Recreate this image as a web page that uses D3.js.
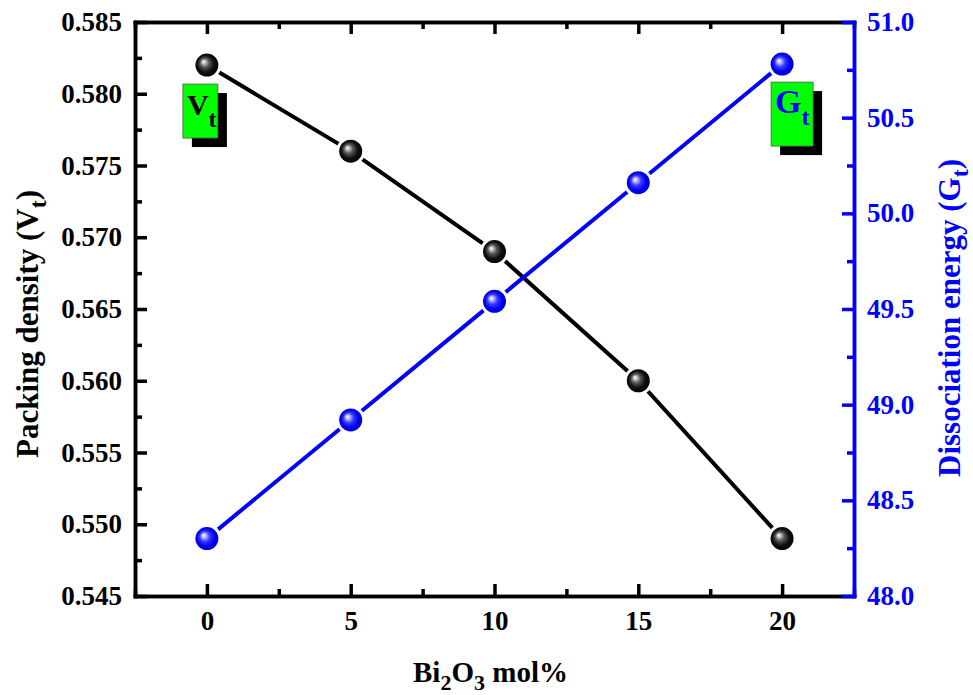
<!DOCTYPE html>
<html><head><meta charset="utf-8">
<script src="https://cdn.jsdelivr.net/npm/d3@7"></script>
<style>
html,body{margin:0;padding:0;background:#fff;}
svg{display:block;}
svg text{font-family:"Liberation Serif","Times New Roman",Times,"Nimbus Roman","DejaVu Serif",serif !important;font-weight:bold;}
</style></head>
<body>
<svg id="chart" width="973" height="695"></svg>
<script>
const bi2o3 = [0, 5, 10, 15, 20];
const packingDensity = [0.582, 0.576, 0.569, 0.560, 0.549];
const dissociationEnergy = [48.30, 48.92, 49.54, 50.16, 50.78];
const xTicks = [0, 5, 10, 15, 20];
const leftTicks = [0.545, 0.550, 0.555, 0.560, 0.565, 0.570, 0.575, 0.580, 0.585];
const rightTicks = [48.0, 48.5, 49.0, 49.5, 50.0, 50.5, 51.0];

const svg = d3.select("#chart");
const m = {left:135, right:854, top:22, bottom:596};
const x = d3.scaleLinear().domain([-2.5, 22.5]).range([m.left, m.right]);
const yL = d3.scaleLinear().domain([0.545, 0.585]).range([m.bottom, m.top]);
const yR = d3.scaleLinear().domain([48.0, 51.0]).range([m.bottom, m.top]);

const defs = svg.append("defs");
function grad(id, stops){
  const g = defs.append("radialGradient").attr("id", id)
    .attr("cx","50%").attr("cy","50%").attr("r","55%")
    .attr("fx","35%").attr("fy","35%");
  stops.forEach(s => g.append("stop").attr("offset", s[0]).attr("stop-color", s[1]));
}
grad("gBlack", [["0%","#ffffff"],["12%","#cfcfcf"],["35%","#5a5a5a"],["65%","#111"],["100%","#000"]]);
grad("gBlue", [["0%","#ffffff"],["14%","#c8c8ff"],["40%","#3a3aff"],["70%","#0000f0"],["100%","#0000c8"]]);

const fs = 27;
function styleAxis(g, color){
  g.attr("font-family", null);
  g.selectAll("path,line").attr("stroke", color).attr("stroke-width", 3.5);
  g.selectAll("text").attr("fill", color).attr("font-size", fs);
  g.select(".domain").attr("stroke-linecap","square");
}
const minorX = d3.range(-2.5, 22.6, 2.5).filter(v => v % 5 !== 0);
const minorL = d3.range(0, 8).map(i => 0.5475 + i*0.005);
const minorR = d3.range(0, 6).map(i => 48.25 + i*0.5);

// bottom axis
const gb = svg.append("g").attr("transform", `translate(0,${m.bottom})`)
  .call(d3.axisBottom(x).tickValues(xTicks).tickFormat(d3.format("d")).tickSizeInner(-12).tickSizeOuter(0).tickPadding(15));
styleAxis(gb, "#000");
const gbm = svg.append("g").attr("transform", `translate(0,${m.bottom})`)
  .call(d3.axisBottom(x).tickValues(minorX).tickFormat("").tickSizeInner(-7).tickSizeOuter(0));
styleAxis(gbm, "#000");
// top axis
const gt = svg.append("g").attr("transform", `translate(0,${m.top})`)
  .call(d3.axisTop(x).tickValues(xTicks).tickFormat("").tickSizeInner(-12).tickSizeOuter(0));
styleAxis(gt, "#000");
const gtm = svg.append("g").attr("transform", `translate(0,${m.top})`)
  .call(d3.axisTop(x).tickValues(minorX).tickFormat("").tickSizeInner(-7).tickSizeOuter(0));
styleAxis(gtm, "#000");
// left axis
const gl = svg.append("g").attr("transform", `translate(${m.left},0)`)
  .call(d3.axisLeft(yL).tickValues(leftTicks).tickFormat(d3.format(".3f")).tickSizeInner(-12).tickSizeOuter(0).tickPadding(13));
styleAxis(gl, "#000");
const glm = svg.append("g").attr("transform", `translate(${m.left},0)`)
  .call(d3.axisLeft(yL).tickValues(minorL).tickFormat("").tickSizeInner(-7).tickSizeOuter(0));
styleAxis(glm, "#000");
// right axis
const gr = svg.append("g").attr("transform", `translate(${m.right},0)`)
  .call(d3.axisRight(yR).tickValues(rightTicks).tickFormat(d3.format(".1f")).tickSizeInner(-12).tickSizeOuter(0).tickPadding(13));
styleAxis(gr, "#0000ff");
const grm = svg.append("g").attr("transform", `translate(${m.right},0)`)
  .call(d3.axisRight(yR).tickValues(minorR).tickFormat("").tickSizeInner(-7).tickSizeOuter(0));
styleAxis(grm, "#0000ff");

// lines
const vt = bi2o3.map((d,i) => ({x:d, y:packingDensity[i]}));
const gtData = bi2o3.map((d,i) => ({x:d, y:dissociationEnergy[i]}));
svg.append("path").datum(vt).attr("fill","none").attr("stroke","#000").attr("stroke-width",4)
  .attr("d", d3.line().x(d => x(d.x)).y(d => yL(d.y)));
svg.append("path").datum(gtData).attr("fill","none").attr("stroke","#0000ff").attr("stroke-width",4)
  .attr("d", d3.line().x(d => x(d.x)).y(d => yR(d.y)));

function markers(data, ys, fill){
  svg.append("g").selectAll("circle").data(data).join("circle")
    .attr("cx", d => x(d.x)).attr("cy", d => ys(d.y)).attr("r", 14.5).attr("fill", "#fff");
  svg.append("g").selectAll("circle").data(data).join("circle")
    .attr("cx", d => x(d.x)).attr("cy", d => ys(d.y)).attr("r", 11.5).attr("fill", `url(#${fill})`);
}
markers(vt, yL, "gBlack");
markers(gtData, yR, "gBlue");

// annotation boxes
function labelBox(bx, by, w, h, main, sub, color, mainSize){
  const g = svg.append("g");
  g.append("rect").attr("x", bx+9).attr("y", by+9).attr("width", w).attr("height", h).attr("fill","#000");
  g.append("rect").attr("x", bx).attr("y", by).attr("width", w).attr("height", h)
    .attr("fill","#00ff00").attr("stroke","#555").attr("stroke-width",0.8);
  const t = g.append("text").attr("x", bx+4).attr("y", by+31).attr("fill", color).attr("font-size", mainSize);
  t.append("tspan").text(main);
  t.append("tspan").attr("dy", 12).attr("font-size", 24).text(sub);
}
labelBox(x(0) - 24, yL(0.582) + 19, 35, 54, "V", "t", "#000", 30);
labelBox(x(20) - 11, yR(50.78) + 18, 42, 64, "G", "t", "#0000ff", 34);

// axis titles
const xt = svg.append("text").attr("x", (m.left+m.right)/2 - 4).attr("y", 682)
  .attr("text-anchor","middle").attr("font-size", 29).attr("fill","#000");
xt.append("tspan").text("Bi");
xt.append("tspan").attr("dy", 8).attr("font-size", 22).text("2");
xt.append("tspan").attr("dy", -8).text("O");
xt.append("tspan").attr("dy", 8).attr("font-size", 22).text("3");
xt.append("tspan").attr("dy", -8).text(" mol%");

const lt = svg.append("text").attr("transform", "translate(38,324) rotate(-90)")
  .attr("text-anchor","middle").attr("font-size", 31).attr("fill","#000");
lt.append("tspan").text("Packing density (V");
lt.append("tspan").attr("dy", 8).attr("font-size", 24).text("t");
lt.append("tspan").attr("dy", -8).text(")");

const rt = svg.append("text").attr("transform", "translate(960,318) rotate(-90)")
  .attr("text-anchor","middle").attr("font-size", 31).attr("fill","#0000ff");
rt.append("tspan").text("Dissociation energy (G");
rt.append("tspan").attr("dy", 8).attr("font-size", 24).text("t");
rt.append("tspan").attr("dy", -8).text(")");
</script>
</body></html>
